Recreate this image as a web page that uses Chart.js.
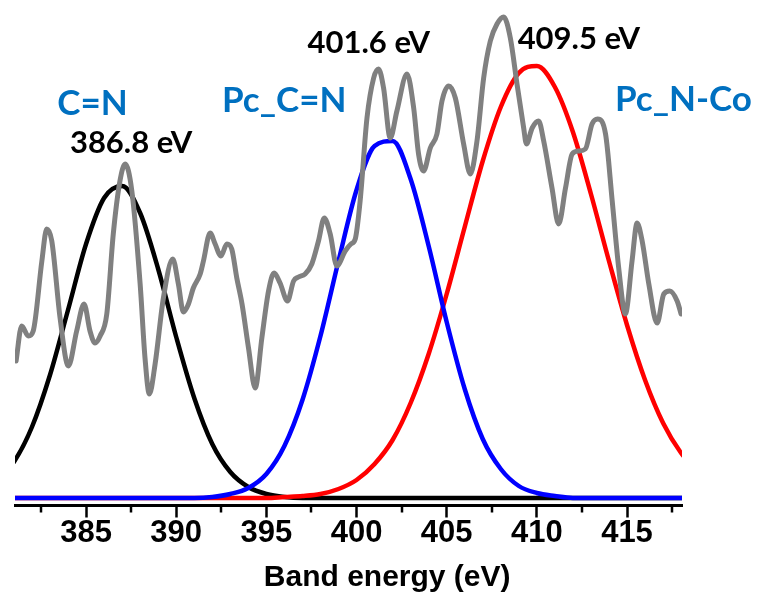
<!DOCTYPE html>
<html>
<head>
<meta charset="utf-8">
<script src="https://cdn.jsdelivr.net/npm/chart.js@4.4.1/dist/chart.umd.min.js"></script>
<style>
  html, body { margin: 0; padding: 0; background: #fff; }
  #wrap { width: 761px; height: 599px; position: relative; }
</style>
</head>
<body>
<div id="wrap"><canvas id="xps"></canvas></div>
<script>
/* ── measured spectrum (gray trace) ── */
const EXP_ENERGY = [
  381.12, 381.43, 381.80, 382.07, 382.55, 382.82, 383.10, 383.56, 384.02, 384.48,
  384.89, 385.22, 385.50, 385.78, 386.15, 386.51, 386.88, 387.17, 387.54, 388.00,
  388.27, 388.51, 388.83, 389.29, 389.81, 390.12, 390.40, 390.68, 390.95, 391.33,
  391.51, 391.88, 392.16, 392.48, 392.81, 393.08, 393.36, 393.65, 394.01, 394.38,
  394.75, 395.12, 395.43, 395.76, 396.17, 396.51, 396.78, 397.15, 397.52, 397.89,
  398.21, 398.54, 398.91, 399.37, 399.69, 399.93, 400.20, 400.58, 400.95, 401.22,
  401.50, 401.87, 402.24, 402.80, 403.17, 403.44, 403.72, 404.09, 404.46, 404.74,
  405.11, 405.48, 405.94, 406.31, 406.68, 407.05, 407.42, 407.79, 408.16, 408.53,
  408.90, 409.27, 409.42, 409.74, 410.10, 410.38, 410.84, 411.21, 411.59, 411.96,
  412.32, 412.69, 413.06, 413.37, 413.81, 414.18, 414.54, 414.91, 415.28, 415.56,
  415.84, 416.21, 416.67, 417.04, 417.37, 417.78, 418.00
];
const EXP_INTENSITY = [
  137, 172, 162, 167, 237, 269, 257, 180, 132, 167,
  194, 167, 155, 162, 184, 264, 317, 334, 307, 214,
  140, 104, 134, 200, 239, 214, 186, 194, 210, 224,
  237, 265, 254, 242, 254, 249, 220, 194, 150, 110,
  160, 207, 225, 215, 197, 217, 221, 224, 234, 257,
  280, 264, 232, 247, 254, 259, 297, 380, 420, 429,
  410, 360, 387, 424, 390, 344, 327, 350, 364, 397,
  412, 400, 354, 324, 357, 420, 457, 474, 481, 460,
  414, 370, 354, 370, 377, 357, 310, 274, 310, 344,
  347, 349, 374, 379, 364, 297, 230, 184, 237, 275,
  257, 214, 175, 204, 207, 197, 184
];

/* ── fitted components, read every 1 eV ── */
const FIT_ENERGY = [
  380, 381, 382, 383, 384, 385, 386, 387, 388, 389,
  390, 391, 392, 393, 394, 395, 396, 397, 398, 399,
  400, 401, 402, 403, 404, 405, 406, 407, 408, 409,
  410, 411, 412, 413, 414, 415, 416, 417, 418, 419
];
const FIT_CN = [
  16, 36, 71, 123, 188, 254, 300, 312, 285, 229,
  161, 100, 54, 26, 11, 4, 1, 0, 0, 0,
  0, 0, 0, 0, 0, 0, 0, 0, 0, 0,
  0, 0, 0, 0, 0, 0, 0, 0, 0, 0
];
const FIT_PC_CN = [
  0, 0, 0, 0, 0, 0, 0, 0, 0, 0,
  0, 0, 1, 4, 10, 24, 52, 98, 162, 237,
  308, 352, 357, 319, 252, 176, 109, 59, 29, 12,
  5, 2, 0, 0, 0, 0, 0, 0, 0, 0
];
const FIT_PC_NCO = [
  0, 0, 0, 0, 0, 0, 0, 0, 0, 0,
  0, 0, 0, 0, 0, 0, 1, 2, 4, 9,
  18, 34, 58, 95, 144, 204, 271, 337, 391, 425,
  432, 411, 366, 304, 237, 173, 118, 75, 45, 25
];

/* ── axis / labels ── */
const MAJOR_TICKS = [385, 390, 395, 400, 405, 410, 415];
const MINOR_TICKS = [382.5, 387.5, 392.5, 397.5, 402.5, 407.5, 412.5, 417.5];
const COMPONENT_NAMES = ['C=N', 'Pc_C=N', 'Pc_N-Co'];
const PEAK_LABELS = ['386.8 eV', '401.6 eV', '409.5 eV'];
const X_TITLE = 'Band energy (eV)';

const AXIS_FAMILY = "'Liberation Sans', Arial, sans-serif";
const NOTE_FAMILY = "Lato, 'Open Sans', sans-serif";
const NAME_BLUE = '#0070C0';

// text notes placed in data units (x = eV, y = intensity)
const NOTES = [
  { text: COMPONENT_NAMES[0], x: 385.36, y: 394, size: 35, color: NAME_BLUE },
  { text: COMPONENT_NAMES[1], x: 395.99, y: 397, size: 35, color: NAME_BLUE },
  { text: COMPONENT_NAMES[2], x: 418.13, y: 398, size: 35, color: NAME_BLUE },
  { text: PEAK_LABELS[0], x: 387.50, y: 355, size: 31, color: '#000' },
  { text: PEAK_LABELS[1], x: 400.68, y: 455.5, size: 31, color: '#000' },
  { text: PEAK_LABELS[2], x: 412.33, y: 459.5, size: 31, color: '#000' }
];

function pts(xs, ys) {
  return xs.map((x, i) => ({ x: x, y: ys[i] }));
}

function lineSet(label, xs, ys, color, width) {
  return {
    label: label,
    data: pts(xs, ys),
    borderColor: color,
    borderWidth: width,
    pointRadius: 0,
    fill: false,
    cubicInterpolationMode: 'monotone',
    borderCapStyle: 'round',
    borderJoinStyle: 'round'
  };
}

/* ── minor ticks, axis title (off-centre in the original) and text notes ── */
const overlayPlugin = {
  id: 'overlay',
  afterDraw(chart) {
    const { ctx } = chart;
    const x = chart.scales.x, y = chart.scales.y;
    ctx.save();
    ctx.strokeStyle = '#000';
    ctx.lineWidth = 2.5;
    MINOR_TICKS.forEach(v => {
      const px = Math.round(x.getPixelForValue(v));
      ctx.beginPath();
      ctx.moveTo(px, x.top);
      ctx.lineTo(px, x.top + 7);
      ctx.stroke();
    });
    ctx.textAlign = 'center';
    ctx.textBaseline = 'middle';
    ctx.fillStyle = '#000';
    ctx.font = 'bold 30px ' + AXIS_FAMILY;
    ctx.fillText(X_TITLE, x.getPixelForValue(401.7), x.bottom - 21.5);
    NOTES.forEach(n => {
      ctx.font = 'bold ' + n.size + 'px ' + NOTE_FAMILY;
      ctx.fillStyle = n.color;
      ctx.fillText(n.text, x.getPixelForValue(n.x), y.getPixelForValue(n.y));
    });
    ctx.restore();
  }
};

new Chart(document.getElementById('xps'), {
  type: 'line',
  data: {
    datasets: [
      lineSet('Experimental', EXP_ENERGY, EXP_INTENSITY, '#808080', 5),
      lineSet(COMPONENT_NAMES[1], FIT_ENERGY, FIT_PC_CN, '#0000FF', 4.5),
      lineSet(COMPONENT_NAMES[2], FIT_ENERGY, FIT_PC_NCO, '#FF0000', 4.5),
      lineSet(COMPONENT_NAMES[0], FIT_ENERGY, FIT_CN, '#000000', 4.5)
    ]
  },
  options: {
    responsive: true,
    maintainAspectRatio: false,
    animation: false,
    layout: { padding: { left: 15, right: 79, top: 5, bottom: 0 } },
    plugins: { legend: { display: false }, tooltip: { enabled: false } },
    scales: {
      x: {
        type: 'linear',
        min: 381.06,
        max: 418.05,
        afterBuildTicks: s => { s.ticks = MAJOR_TICKS.map(v => ({ value: v })); },
        afterFit: s => { s.height = 93.5; },
        ticks: {
          color: '#000',
          padding: 0,
          maxRotation: 0,
          autoSkip: false,
          font: { family: AXIS_FAMILY, size: 31, weight: 'bold', lineHeight: 1 },
          callback: v => v
        },
        grid: { display: true, drawOnChartArea: false, drawTicks: true, tickLength: 12, tickWidth: 2.5, tickColor: '#000' },
        border: { display: true, color: '#000', width: 3 },
        title: { display: false, text: X_TITLE }
      },
      y: { display: false, min: -7.5, max: 493 }
    }
  },
  plugins: [overlayPlugin]
});
</script>
</body>
</html>
